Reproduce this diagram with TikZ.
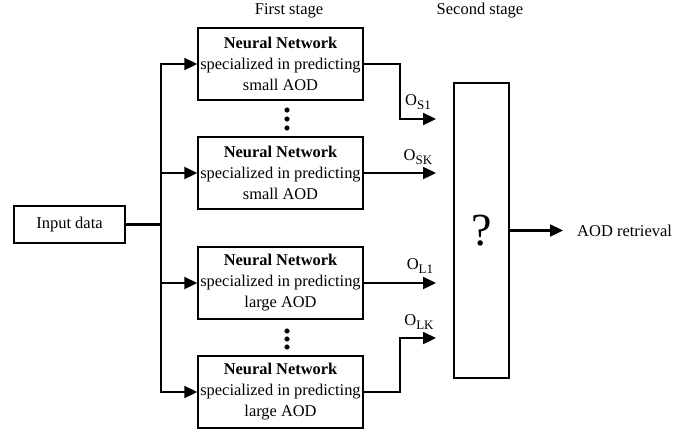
\documentclass[tikz,border=0pt]{standalone}
\usepackage{fontspec}
\setmainfont{Liberation Serif}
\usetikzlibrary{arrows.meta}
\newcommand{\osub}[1]{O\raisebox{-3.5pt}{\fontsize{13}{14}\selectfont #1}}
\tikzset{
  nnbox/.style={draw, line width=1.5pt, minimum width=165pt, minimum height=72pt, inner sep=0pt, align=center, font=\fontsize{16.4}{21}\selectfont},
  plainbox/.style={draw, line width=1.5pt, inner sep=0pt, font=\fontsize{16.5}{21}\selectfont},
  lbl/.style={inner sep=0pt, font=\fontsize{16.5}{21}\selectfont},
  wire/.style={line width=2.3pt},
  feed/.style={line width=2.3pt, -{Triangle[length=13pt,width=12pt]}}
}
\begin{document}
\begin{tikzpicture}[x=1pt, y=-1pt]
\useasboundingbox (0,0) rectangle (698,432);
\node [lbl] (hdr1) at (289,11) {First stage};
\node [lbl] (hdr2) at (480,11) {Second stage};
\node [plainbox, minimum width=111pt, minimum height=37pt] (in) at (69.5,224.5) {Input data};
\node [nnbox] (nns1) at (280.5,64) {\textbf{Neural Network}\\specialized in predicting\\small AOD};
\node [nnbox] (nnsk) at (280.5,173) {\textbf{Neural Network}\\specialized in predicting\\small AOD};
\node [nnbox] (nnl1) at (280.5,283) {\textbf{Neural Network}\\specialized in predicting\\large AOD};
\node [nnbox] (nnlk) at (280.5,392) {\textbf{Neural Network}\\specialized in predicting\\large AOD};
\draw [fill] (287,110) circle [radius=2.3];
\draw [fill] (287,119) circle [radius=2.3];
\draw [fill] (287,128) circle [radius=2.3];
\draw [fill] (287,331) circle [radius=2.3];
\draw [fill] (287,339) circle [radius=2.3];
\draw [fill] (287,347) circle [radius=2.3];
\coordinate (tr) at (161,224.5);
\draw [wire] (in.east) -- (tr);
\draw [feed] (tr) |- (nns1.west);
\draw [feed] (tr) |- (nnlk.west);
\draw [feed] (tr |- nnsk.west) -- (nnsk.west);
\draw [feed] (tr |- nnl1.west) -- (nnl1.west);
\node [plainbox, minimum width=55pt, minimum height=295pt, font=\fontsize{46}{50}\selectfont] (comb) at (481.5,230.5) {?};
\coordinate (os1) at (436,119);
\coordinate (osk) at (436,173);
\coordinate (ol1) at (436,283);
\coordinate (olk) at (436,338);
\draw [feed] (nns1.east) -- ++(36,0) |- (os1);
\draw [feed] (nnsk.east) -- (osk);
\draw [feed] (nnl1.east) -- (ol1);
\draw [feed] (nnlk.east) -- ++(36,0) |- (olk);
\node [lbl] (ls1) at (418,102) {\osub{S1}};
\node [lbl] (lsk) at (418,157) {\osub{SK}};
\node [lbl] (ll1) at (420,266) {\osub{L1}};
\node [lbl] (llk) at (419,322) {\osub{LK}};
\node [lbl, anchor=west] (ret) at (577,230.5) {AOD retrieval};
\draw [feed, shorten >=14pt] (comb.east) -- (ret.west);
\end{tikzpicture}
\end{document}
